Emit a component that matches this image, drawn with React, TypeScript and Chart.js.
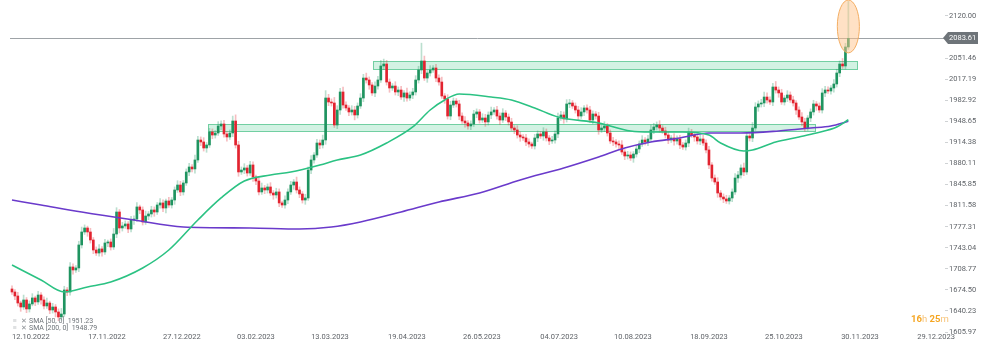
import React, { useEffect, useRef } from "react";
import { Chart, registerables } from "chart.js";
Chart.register(...registerables);

// ---- data (daily gold candles, index = trading day) ----
const firstOpen = 1676;
const closes = [
  1671.1, 1664.6, 1653.2, 1646.7, 1658.1, 1643.5, 1651.6, 1661.4, 1654.9, 1666.2,
  1658.1, 1648.4, 1653.2, 1641.8, 1646.7, 1638.6, 1630.5, 1635.3, 1674.4, 1671.1,
  1711.8, 1706.9, 1710.2, 1747.6, 1768.7, 1775.2, 1768.7, 1755.7, 1739.4, 1734.5,
  1741.1, 1736.2, 1750.8, 1752.4, 1744.3, 1765.4, 1801.2, 1775.2, 1778.5, 1781.7,
  1773.6, 1788.2, 1789.8, 1809.4, 1804.5, 1785.0, 1794.7, 1798.0, 1804.5, 1801.2,
  1812.6, 1815.9, 1807.7, 1819.1, 1812.6, 1820.7, 1837.0, 1845.1, 1833.8, 1848.4,
  1866.3, 1874.4, 1871.2, 1885.8, 1918.3, 1915.1, 1905.3, 1910.2, 1931.3, 1926.4,
  1929.7, 1941.1, 1944.3, 1928.1, 1923.2, 1929.7, 1949.2, 1910.2, 1866.3, 1869.5,
  1872.8, 1864.6, 1877.7, 1858.1, 1851.6, 1833.8, 1840.3, 1837.0, 1841.9, 1832.1,
  1828.9, 1833.8, 1815.9, 1812.6, 1820.7, 1833.8, 1845.1, 1850.0, 1837.0, 1830.5,
  1820.7, 1824.0, 1869.5, 1885.8, 1893.9, 1913.4, 1910.2, 1918.3, 1986.6, 1980.1,
  1978.5, 1942.7, 1967.1, 1996.4, 1975.2, 1970.4, 1963.9, 1967.1, 1959.0, 1973.6,
  1986.6, 2019.1, 2015.9, 2007.8, 1994.8, 2006.1, 2015.9, 2038.7, 2041.9, 2012.6,
  2002.9, 2006.1, 1996.4, 1999.6, 1988.2, 1994.8, 1986.6, 1991.5, 1996.4, 2015.9,
  2032.2, 2046.8, 2019.1, 2027.3, 2032.2, 2035.4, 2019.1, 2012.6, 1989.9, 1985.0,
  1957.3, 1975.2, 1981.7, 1976.9, 1957.3, 1949.2, 1946.0, 1941.1, 1944.3, 1960.6,
  1963.9, 1950.8, 1954.1, 1947.6, 1959.0, 1963.9, 1967.1, 1957.3, 1950.8, 1962.2,
  1955.7, 1947.6, 1937.8, 1934.6, 1926.4, 1923.2, 1921.6, 1915.1, 1911.8, 1908.6,
  1921.6, 1928.1, 1924.8, 1931.3, 1921.6, 1916.7, 1918.3, 1928.1, 1954.1, 1959.0,
  1952.5, 1976.9, 1978.5, 1973.6, 1967.1, 1957.3, 1963.9, 1970.4, 1967.1, 1950.8,
  1960.6, 1957.3, 1934.6, 1937.8, 1941.1, 1929.7, 1916.7, 1915.1, 1911.8, 1910.2,
  1898.8, 1892.3, 1893.9, 1889.0, 1895.5, 1903.7, 1911.8, 1918.3, 1915.1, 1919.9,
  1934.6, 1939.5, 1942.7, 1937.8, 1933.0, 1926.4, 1918.3, 1921.6, 1916.7, 1919.9,
  1910.2, 1906.9, 1913.4, 1929.7, 1926.4, 1923.2, 1916.7, 1919.9, 1913.4, 1902.1,
  1877.7, 1856.5, 1850.0, 1832.1, 1825.6, 1822.4, 1819.1, 1824.0, 1833.8, 1856.5,
  1861.4, 1872.8, 1866.3, 1924.8, 1921.6, 1937.8, 1972.0, 1976.9, 1978.5, 1988.2,
  1983.4, 1980.1, 2004.5, 1999.6, 1994.8, 1980.1, 1986.6, 1991.5, 1983.4, 1978.5,
  1967.1, 1955.7, 1947.6, 1937.8, 1954.1, 1963.9, 1976.9, 1973.6, 1967.1, 1994.8,
  1999.6, 1998.0, 2002.9, 2009.4, 2027.3, 2041.9, 2038.7, 2069.6, 2083.61,
];
const wickUp = [
  5,4,6,3,8,4,5,7,3,6,4,5,8,3,6,4,5,9,6,4,
  7,5,4,6,8,5,3,6,4,5,7,4,6,3,5,9,7,4,6,5,
  4,6,5,7,3,5,8,4,6,5,4,7,5,3,6,4,5,7,6,4,
  5,6,4,8,6,5,7,4,6,5,4,7,5,6,4,5,8,10,6,5,
  7,4,6,5,3,6,8,4,5,7,4,6,5,3,7,5,6,4,8,5,
  4,6,5,7,4,6,5,8,12,6,5,9,7,6,8,5,4,7,6,5,
  7,6,8,5,4,7,6,9,8,6,5,4,7,5,6,4,8,5,6,7,
  6,29,8,5,7,4,6,5,8,4,7,6,5,4,6,5,7,4,5,6,
  5,4,7,6,5,8,4,6,5,7,4,5,6,4,7,5,4,6,5,3,
  6,5,4,7,5,4,6,5,8,6,5,7,6,4,5,6,7,4,5,6,
  5,4,6,5,7,4,5,6,4,5,7,4,6,5,4,6,5,7,4,6,
  8,6,5,7,4,6,5,4,7,5,6,4,5,8,6,4,5,7,6,5,
  6,4,5,7,4,5,6,4,5,7,6,5,8,6,4,9,7,5,6,8,
  7,5,6,9,5,6,4,7,5,6,4,5,7,6,4,5,6,4,5,7,
  6,5,4,7,6,5,9,6,60,
];
const wickDn = [
  4,6,5,7,4,6,5,3,6,4,7,5,4,6,5,8,6,5,4,6,
  5,7,4,6,5,4,7,5,6,4,5,7,4,6,5,4,6,8,5,4,
  6,5,7,4,6,5,4,6,5,7,4,5,6,8,4,5,7,4,6,5,
  4,6,5,7,4,6,5,7,4,6,5,4,6,5,7,4,6,5,7,4,
  6,5,4,7,6,5,4,6,5,4,7,5,6,4,5,6,4,7,5,6,
  5,7,4,6,5,4,6,5,7,6,5,4,6,7,5,4,6,5,8,5,
  4,6,5,7,4,6,5,4,6,5,7,4,5,6,4,7,5,4,6,5,
  5,6,4,7,5,4,6,5,4,7,5,6,4,5,6,4,7,5,6,4,
  6,5,4,7,5,6,4,5,7,4,6,5,4,6,5,7,4,6,5,4,
  5,6,4,7,5,6,4,5,6,4,7,5,6,4,5,7,4,6,5,4,
  6,5,7,4,6,5,4,6,5,7,4,6,5,4,7,5,6,4,5,6,
  4,6,5,7,4,5,6,4,7,5,6,4,5,6,4,7,5,6,4,5,
  6,5,4,7,5,6,4,5,6,4,7,5,6,4,5,6,4,7,5,6,
  5,4,6,5,7,4,5,6,4,5,7,4,6,5,4,6,5,7,4,5,
  6,4,5,7,5,6,4,5,4,
];

const sma50Idx = [0, 10, 18, 26, 34, 45, 54, 64, 72, 80, 89, 96, 106, 112, 120, 129, 138, 144, 149, 154, 165, 172, 180, 188, 202, 213, 220, 231, 240, 244, 252, 255, 263, 271, 277, 284, 288];
const sma50Val = [1715, 1690.6, 1671.1, 1679.3, 1687.4, 1710.2, 1739.4, 1788.2, 1824, 1851.6, 1861.4, 1866.3, 1877.7, 1885.8, 1893.9, 1913.4, 1939.5, 1967.1, 1983.4, 1993.1, 1988.3, 1983.4, 1970.4, 1955.7, 1946, 1933, 1931.3, 1931.3, 1926.5, 1913.4, 1900.4, 1902, 1915, 1923.2, 1929.7, 1939.5, 1951.23];
const sma200Idx = [0, 10, 24, 42, 59, 82, 99, 110, 120, 134, 147, 161, 175, 190, 202, 211, 220, 230, 240, 251, 264, 275, 282, 288];
const sma200Val = [1820.7, 1812.6, 1801.2, 1788.2, 1776.8, 1775.2, 1773.6, 1776.8, 1785, 1801.2, 1817.5, 1832.1, 1853.3, 1872.8, 1890.7, 1905.3, 1915.1, 1921.6, 1929.7, 1929.7, 1933, 1937.8, 1941.1, 1948.79];

const xTickPos = [6.5, 32.7, 58.5, 84, 109.5, 136, 161.8, 188.4, 213.8, 240, 265.8, 292, 318.2];
const xTickLabels = ["12.10.2022", "17.11.2022", "27.12.2022", "03.02.2023", "13.03.2023", "19.04.2023", "26.05.2023", "04.07.2023", "10.08.2023", "18.09.2023", "25.10.2023", "30.11.2023", "29.12.2023"];
const yTicks = [1605.97, 1640.23, 1674.5, 1708.77, 1743.04, 1777.31, 1811.58, 1845.85, 1880.11, 1914.38, 1948.65, 1982.92, 2017.19, 2051.46, 2120.0];
const lastPrice = 2083.61;
const zoneUpperIdx = [124.3, 291];
const zoneUpperPrice = [2033, 2046.8];
const zoneLowerIdx = [67.5, 276.5];
const zoneLowerPrice = [1933, 1944.3];
const spikeCenterIdx = 288;
const spikeHalfWidthIdx = 3.8;
const spikePrice = [2060, 2146];
const legendLines = ["SMA [50, 0]  1951.23", "SMA [200, 0]  1948.79"];
const timer = [["16", "h "], ["25", "m"]];

const GREEN = "#1f9460";
const RED = "#e2232f";
const FONT = "Roboto";

export default function App() {
  const ref = useRef<HTMLCanvasElement>(null);
  useEffect(() => {
    const opens = closes.map((c, i) => (i === 0 ? firstOpen : closes[i - 1]));
    const up = closes.map((c, i) => c >= opens[i]);
    const bodies = closes.map((c, i) => ({ x: i, y: [opens[i], c] }));
    const wicks = closes.map((c, i) => ({
      x: i,
      y: [Math.min(opens[i], c) - wickDn[i], Math.max(opens[i], c) + wickUp[i]],
    }));

    const overlay = {
      id: "overlay",
      beforeDatasetsDraw(chart: any) {
        const { ctx, scales, chartArea } = chart;
        const xs = scales.x, ys = scales.y;
        ctx.save();
        const zone = (ix: number[], pv: number[]) => {
          const x1 = xs.getPixelForValue(ix[0]);
          const x2 = xs.getPixelForValue(ix[1]);
          const y1 = ys.getPixelForValue(pv[1]);
          const y2 = ys.getPixelForValue(pv[0]);
          ctx.fillStyle = "rgba(165,230,200,0.5)";
          ctx.fillRect(x1, y1, x2 - x1, y2 - y1);
          ctx.strokeStyle = "#72cfa2";
          ctx.lineWidth = 1;
          ctx.strokeRect(Math.round(x1) + 0.5, Math.round(y1) + 0.5, Math.round(x2 - x1), Math.round(y2 - y1));
        };
        zone(zoneLowerIdx, zoneLowerPrice);
        zone(zoneUpperIdx, zoneUpperPrice);
        const ly = Math.round(ys.getPixelForValue(lastPrice)) + 0.5;
        ctx.strokeStyle = "#9ea3a7";
        ctx.beginPath();
        ctx.moveTo(chartArea.left, ly);
        ctx.lineTo(chartArea.right, ly);
        ctx.stroke();
        ctx.restore();
      },
      afterDatasetsDraw(chart: any) {
        const { ctx, scales } = chart;
        const xs = scales.x, ys = scales.y;
        const cx = xs.getPixelForValue(spikeCenterIdx);
        const rx = xs.getPixelForValue(spikeCenterIdx + spikeHalfWidthIdx) - cx;
        const yTop = ys.getPixelForValue(spikePrice[1]);
        const yBot = ys.getPixelForValue(spikePrice[0]);
        ctx.save();
        ctx.beginPath();
        ctx.ellipse(cx, (yTop + yBot) / 2, rx, (yBot - yTop) / 2, 0, 0, Math.PI * 2);
        ctx.fillStyle = "rgba(255,196,140,0.5)";
        ctx.fill();
        ctx.strokeStyle = "#f3ad62";
        ctx.lineWidth = 1;
        ctx.stroke();
        ctx.restore();
      },
      afterDraw(chart: any) {
        const { ctx, scales, chartArea } = chart;
        const ys = scales.y;
        ctx.save();
        // last price tag
        const py = Math.round(ys.getPixelForValue(lastPrice));
        const bx = chartArea.right + 1;
        ctx.fillStyle = "#6e7479";
        ctx.beginPath();
        ctx.moveTo(bx - 3, py);
        ctx.lineTo(bx + 2, py - 6);
        ctx.lineTo(bx + 32, py - 6);
        ctx.lineTo(bx + 32, py + 6);
        ctx.lineTo(bx + 2, py + 6);
        ctx.closePath();
        ctx.fill();
        ctx.fillStyle = "#ffffff";
        ctx.font = `7.5px ${FONT}`;
        ctx.textBaseline = "middle";
        ctx.textAlign = "left";
        ctx.fillText(lastPrice.toFixed(2), bx + 3, py + 0.5);
        // timer
        let tx = 911;
        const tyy = 320;
        timer.forEach(([num, unit]) => {
          ctx.font = `bold 9.5px ${FONT}`;
          ctx.fillStyle = "#f5a623";
          ctx.fillText(num, tx, tyy);
          tx += ctx.measureText(num).width;
          ctx.font = `9.5px ${FONT}`;
          ctx.fillStyle = "#f7c47a";
          ctx.fillText(unit, tx, tyy);
          tx += ctx.measureText(unit).width;
        });
        // legend
        legendLines.forEach((t, i) => {
          const y = 321 + i * 7;
          ctx.font = `7px ${FONT}`;
          ctx.fillStyle = "#8a8f94";
          ctx.fillText("≡", 13, y);
          ctx.fillText("✕", 21, y);
          ctx.fillStyle = "#6d7378";
          ctx.fillText(t, 29, y);
        });
        ctx.restore();
      },
    };

    const chart = new Chart(ref.current!, {
      type: "bar",
      data: {
        datasets: [
          {
            type: "line",
            data: sma50Idx.map((x, i) => ({ x, y: sma50Val[i] })),
            borderColor: "#2bc283",
            borderWidth: 1.6,
            pointRadius: 0,
            cubicInterpolationMode: "monotone",
            order: 0,
          } as any,
          {
            type: "line",
            data: sma200Idx.map((x, i) => ({ x, y: sma200Val[i] })),
            borderColor: "#6a3acb",
            borderWidth: 1.6,
            pointRadius: 0,
            cubicInterpolationMode: "monotone",
            order: 0,
          } as any,
          {
            data: bodies,
            backgroundColor: up.map((u) => (u ? GREEN : RED)),
            barThickness: 2,
            minBarLength: 1,
            grouped: false,
            order: 1,
          } as any,
          {
            data: wicks,
            backgroundColor: up.map((u) => (u ? "rgba(31,148,96,0.3)" : "rgba(226,35,47,0.3)")),
            barThickness: 1,
            grouped: false,
            order: 2,
          } as any,
        ],
      },
      options: {
        animation: false,
        responsive: false,
        layout: { padding: { left: 10, top: 0, right: 0, bottom: 0 } },
        plugins: { legend: { display: false }, tooltip: { enabled: false } },
        scales: {
          x: {
            type: "linear",
            offset: false,
            min: -0.69,
            max: 321.28,
            grid: { display: false, drawTicks: false, tickLength: 0 },
            border: { display: false },
            afterBuildTicks: (s: any) => {
              s.ticks = xTickPos.map((v) => ({ value: v }));
            },
            afterFit: (s: any) => {
              s.height = 19;
              s.paddingLeft = 0;
              s.paddingRight = 0;
            },
            ticks: {
              autoSkip: false,
              maxRotation: 0,
              padding: 0,
              color: "#5f6368",
              font: { family: FONT, size: 7.5 },
              callback: (v: any) => {
                const k = xTickPos.indexOf(Number(v));
                return k >= 0 ? xTickLabels[k] : "";
              },
            },
          },
          y: {
            position: "right",
            min: 1604.4,
            max: 2146,
            grid: { drawOnChartArea: false, drawTicks: true, tickLength: 3, color: "#cfd2d4" },
            border: { display: false },
            afterBuildTicks: (s: any) => {
              s.ticks = yTicks.map((v) => ({ value: v }));
            },
            afterFit: (s: any) => {
              s.width = 38;
              s.paddingTop = 0;
              s.paddingBottom = 0;
            },
            ticks: {
              padding: 1,
              color: "#5f6368",
              font: { family: FONT, size: 7.5 },
              callback: (v: any) => Number(v).toFixed(2),
            },
          },
        },
      },
      plugins: [overlay],
    } as any);
    return () => chart.destroy();
  }, []);

  return (
    <div style={{ position: "fixed", left: 0, top: 0, width: 983, height: 352, background: "#fff" }}>
      <canvas ref={ref} width={983} height={352} style={{ width: 983, height: 352, display: "block" }} />
    </div>
  );
}
